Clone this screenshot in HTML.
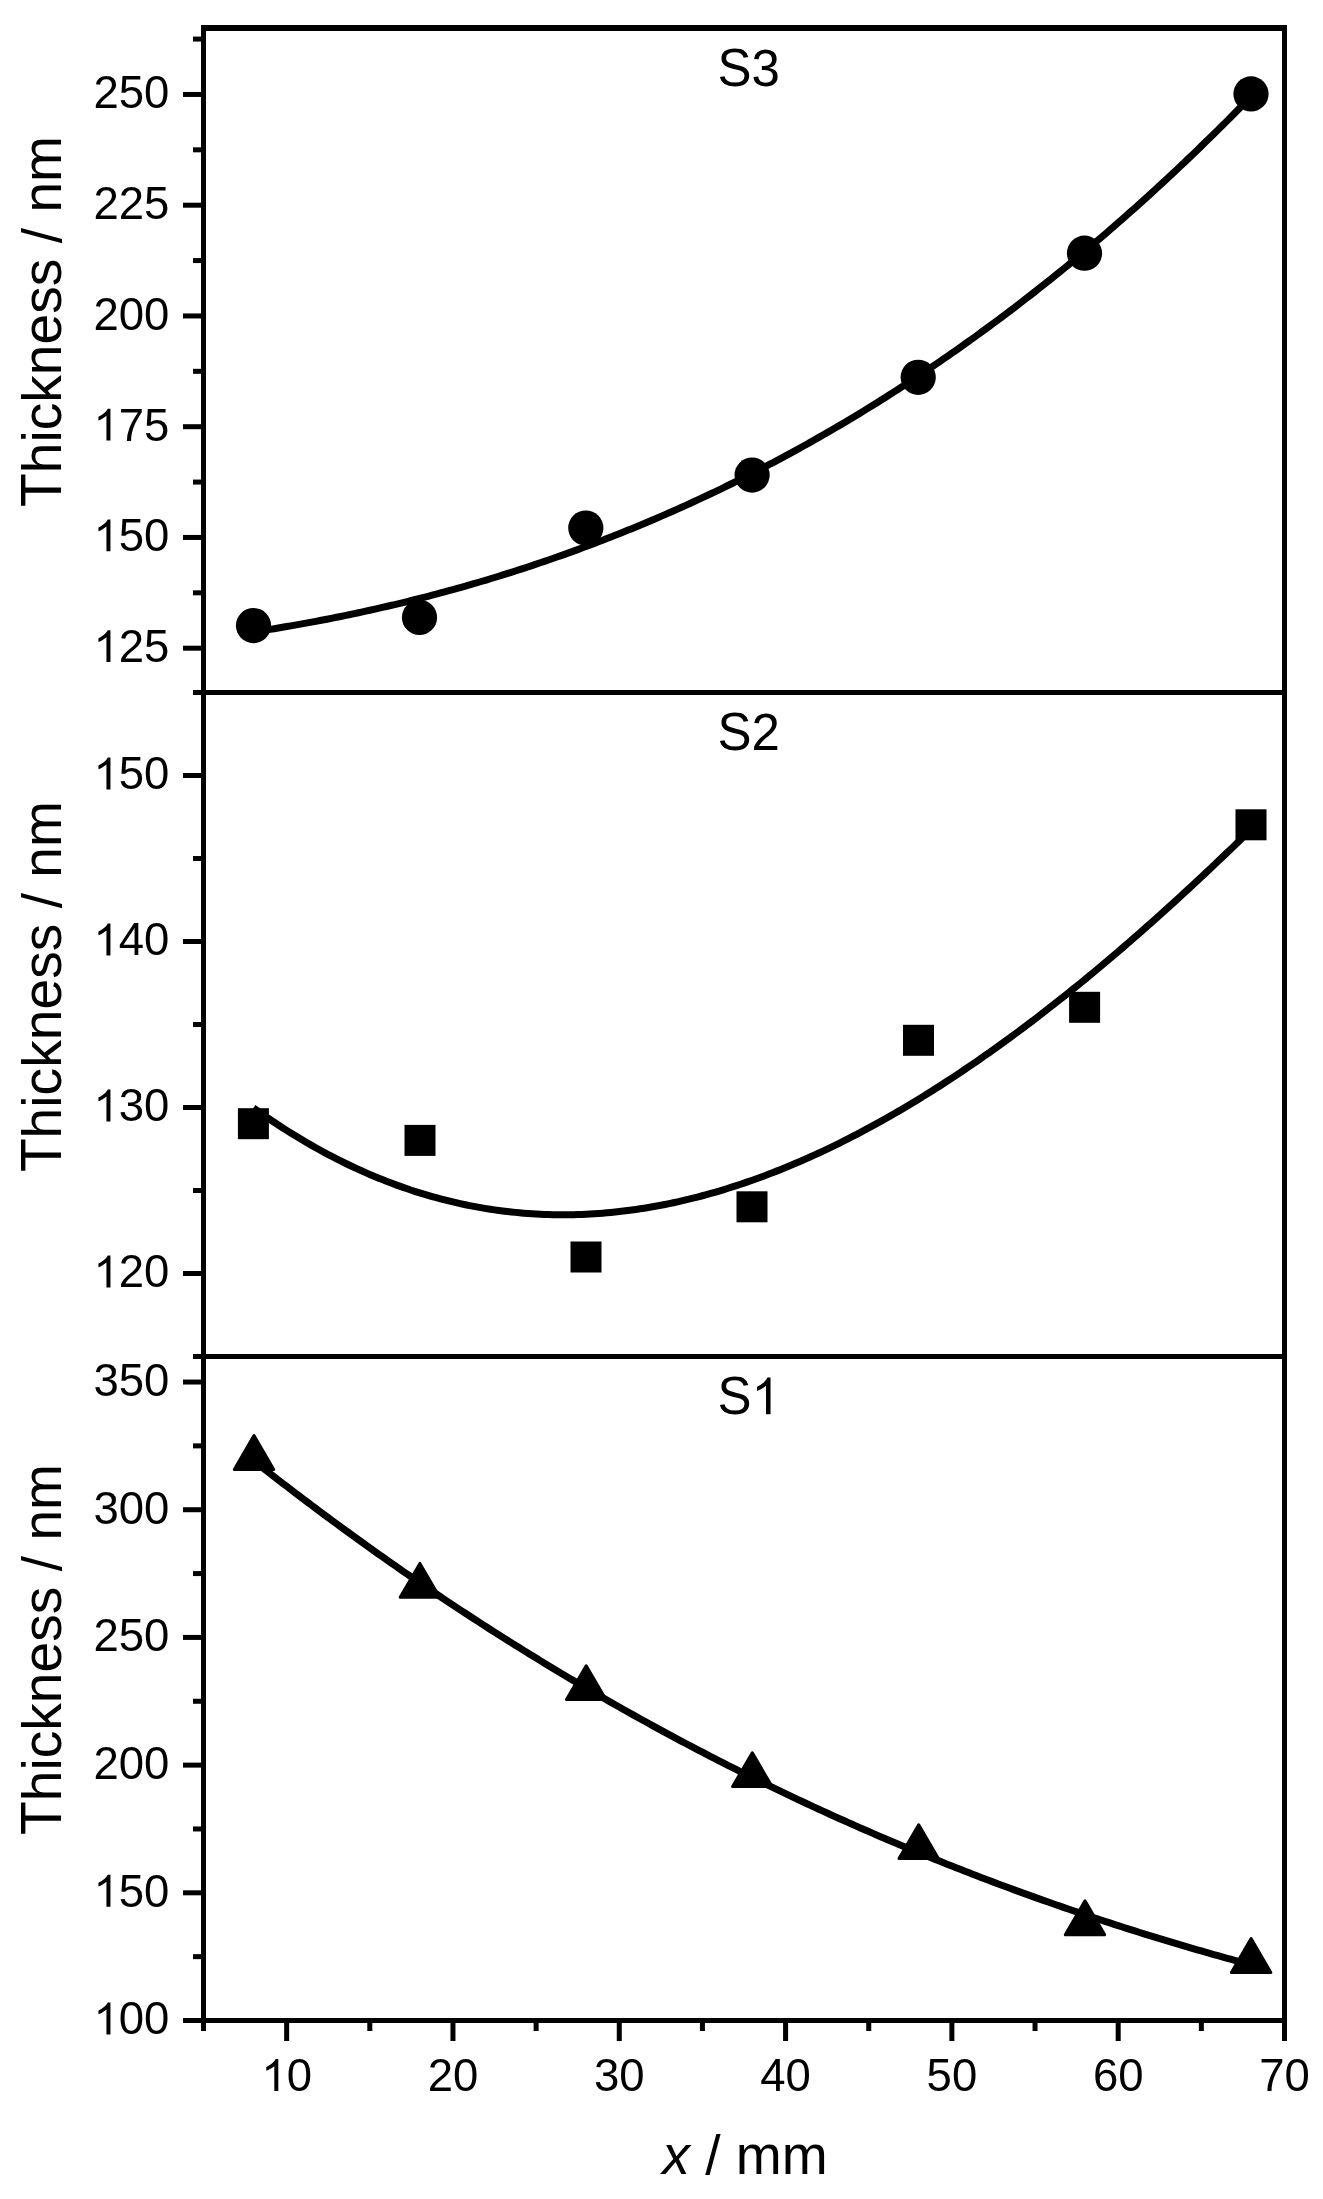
<!DOCTYPE html><html><head><meta charset="utf-8"><title>Thickness vs x</title><style>html,body{margin:0;padding:0;background:#fff;overflow:hidden;}svg{display:block;filter:grayscale(1);}</style></head><body>
<svg width="1323" height="2199" viewBox="0 0 1323 2199" font-family="Liberation Sans, sans-serif" fill="#000">
<defs><path id="one" d="M763,0 L583,0 L583,1147 Q518,1085 412.5,1023 Q307,961 223,930 L223,1104 Q374,1175 486.5,1276 Q599,1377 646,1472 L763,1472 Z"/></defs>
<rect x="0" y="0" width="1323" height="2199" fill="#fff"/>
<rect x="201.00" y="25.00" width="5.00" height="1998.00"/>
<rect x="1282.00" y="25.00" width="5.00" height="1998.00"/>
<rect x="201.00" y="25.00" width="1086.00" height="6.00"/>
<rect x="201.00" y="2018.00" width="1086.00" height="5.00"/>
<rect x="193.00" y="690.00" width="1094.00" height="5.00"/>
<rect x="193.00" y="1354.00" width="1094.00" height="5.00"/>
<rect x="183.00" y="645.70" width="18.00" height="5.00"/>
<rect x="183.00" y="534.95" width="18.00" height="5.00"/>
<rect x="183.00" y="424.20" width="18.00" height="5.00"/>
<rect x="183.00" y="313.45" width="18.00" height="5.00"/>
<rect x="183.00" y="202.70" width="18.00" height="5.00"/>
<rect x="183.00" y="91.95" width="18.00" height="5.00"/>
<rect x="193.00" y="590.33" width="8.00" height="5.00"/>
<rect x="193.00" y="479.57" width="8.00" height="5.00"/>
<rect x="193.00" y="368.82" width="8.00" height="5.00"/>
<rect x="193.00" y="258.07" width="8.00" height="5.00"/>
<rect x="193.00" y="147.33" width="8.00" height="5.00"/>
<rect x="193.00" y="36.58" width="8.00" height="5.00"/>
<rect x="183.00" y="1271.00" width="18.00" height="5.00"/>
<rect x="183.00" y="1105.00" width="18.00" height="5.00"/>
<rect x="183.00" y="939.00" width="18.00" height="5.00"/>
<rect x="183.00" y="773.00" width="18.00" height="5.00"/>
<rect x="193.00" y="1188.00" width="8.00" height="5.00"/>
<rect x="193.00" y="1022.00" width="8.00" height="5.00"/>
<rect x="193.00" y="856.00" width="8.00" height="5.00"/>
<rect x="183.00" y="2018.00" width="18.00" height="5.00"/>
<rect x="183.00" y="1890.31" width="18.00" height="5.00"/>
<rect x="183.00" y="1762.62" width="18.00" height="5.00"/>
<rect x="183.00" y="1634.92" width="18.00" height="5.00"/>
<rect x="183.00" y="1507.23" width="18.00" height="5.00"/>
<rect x="183.00" y="1379.54" width="18.00" height="5.00"/>
<rect x="193.00" y="1954.15" width="8.00" height="5.00"/>
<rect x="193.00" y="1826.46" width="8.00" height="5.00"/>
<rect x="193.00" y="1698.77" width="8.00" height="5.00"/>
<rect x="193.00" y="1571.08" width="8.00" height="5.00"/>
<rect x="193.00" y="1443.38" width="8.00" height="5.00"/>
<rect x="284.15" y="2023.00" width="5.00" height="18.00"/>
<rect x="450.46" y="2023.00" width="5.00" height="18.00"/>
<rect x="616.77" y="2023.00" width="5.00" height="18.00"/>
<rect x="783.08" y="2023.00" width="5.00" height="18.00"/>
<rect x="949.38" y="2023.00" width="5.00" height="18.00"/>
<rect x="1115.69" y="2023.00" width="5.00" height="18.00"/>
<rect x="1282.00" y="2023.00" width="5.00" height="18.00"/>
<rect x="201.00" y="2023.00" width="5.00" height="8.00"/>
<rect x="367.31" y="2023.00" width="5.00" height="8.00"/>
<rect x="533.62" y="2023.00" width="5.00" height="8.00"/>
<rect x="699.92" y="2023.00" width="5.00" height="8.00"/>
<rect x="866.23" y="2023.00" width="5.00" height="8.00"/>
<rect x="1032.54" y="2023.00" width="5.00" height="8.00"/>
<rect x="1198.85" y="2023.00" width="5.00" height="8.00"/>
<use href="#one" transform="translate(93.49,662.10) scale(0.022217,-0.021684)"/>
<text transform="translate(118.79,662.10) scale(1,1.01)" font-size="45.5">2</text>
<text transform="translate(144.10,662.10) scale(1,1.01)" font-size="45.5">5</text>
<use href="#one" transform="translate(93.49,551.35) scale(0.022217,-0.021684)"/>
<text transform="translate(118.79,551.35) scale(1,1.01)" font-size="45.5">5</text>
<text transform="translate(144.10,551.35) scale(1,1.01)" font-size="45.5">0</text>
<use href="#one" transform="translate(93.49,440.60) scale(0.022217,-0.021684)"/>
<text transform="translate(118.79,440.60) scale(1,1.01)" font-size="45.5">7</text>
<text transform="translate(144.10,440.60) scale(1,1.01)" font-size="45.5">5</text>
<text transform="translate(93.49,329.85) scale(1,1.01)" font-size="45.5">2</text>
<text transform="translate(118.79,329.85) scale(1,1.01)" font-size="45.5">0</text>
<text transform="translate(144.10,329.85) scale(1,1.01)" font-size="45.5">0</text>
<text transform="translate(93.49,219.10) scale(1,1.01)" font-size="45.5">2</text>
<text transform="translate(118.79,219.10) scale(1,1.01)" font-size="45.5">2</text>
<text transform="translate(144.10,219.10) scale(1,1.01)" font-size="45.5">5</text>
<text transform="translate(93.49,108.35) scale(1,1.01)" font-size="45.5">2</text>
<text transform="translate(118.79,108.35) scale(1,1.01)" font-size="45.5">5</text>
<text transform="translate(144.10,108.35) scale(1,1.01)" font-size="45.5">0</text>
<use href="#one" transform="translate(93.49,1287.40) scale(0.022217,-0.021684)"/>
<text transform="translate(118.79,1287.40) scale(1,1.01)" font-size="45.5">2</text>
<text transform="translate(144.10,1287.40) scale(1,1.01)" font-size="45.5">0</text>
<use href="#one" transform="translate(93.49,1121.40) scale(0.022217,-0.021684)"/>
<text transform="translate(118.79,1121.40) scale(1,1.01)" font-size="45.5">3</text>
<text transform="translate(144.10,1121.40) scale(1,1.01)" font-size="45.5">0</text>
<use href="#one" transform="translate(93.49,955.40) scale(0.022217,-0.021684)"/>
<text transform="translate(118.79,955.40) scale(1,1.01)" font-size="45.5">4</text>
<text transform="translate(144.10,955.40) scale(1,1.01)" font-size="45.5">0</text>
<use href="#one" transform="translate(93.49,789.40) scale(0.022217,-0.021684)"/>
<text transform="translate(118.79,789.40) scale(1,1.01)" font-size="45.5">5</text>
<text transform="translate(144.10,789.40) scale(1,1.01)" font-size="45.5">0</text>
<use href="#one" transform="translate(93.49,2034.40) scale(0.022217,-0.021684)"/>
<text transform="translate(118.79,2034.40) scale(1,1.01)" font-size="45.5">0</text>
<text transform="translate(144.10,2034.40) scale(1,1.01)" font-size="45.5">0</text>
<use href="#one" transform="translate(93.49,1906.71) scale(0.022217,-0.021684)"/>
<text transform="translate(118.79,1906.71) scale(1,1.01)" font-size="45.5">5</text>
<text transform="translate(144.10,1906.71) scale(1,1.01)" font-size="45.5">0</text>
<text transform="translate(93.49,1779.02) scale(1,1.01)" font-size="45.5">2</text>
<text transform="translate(118.79,1779.02) scale(1,1.01)" font-size="45.5">0</text>
<text transform="translate(144.10,1779.02) scale(1,1.01)" font-size="45.5">0</text>
<text transform="translate(93.49,1651.32) scale(1,1.01)" font-size="45.5">2</text>
<text transform="translate(118.79,1651.32) scale(1,1.01)" font-size="45.5">5</text>
<text transform="translate(144.10,1651.32) scale(1,1.01)" font-size="45.5">0</text>
<text transform="translate(93.49,1523.63) scale(1,1.01)" font-size="45.5">3</text>
<text transform="translate(118.79,1523.63) scale(1,1.01)" font-size="45.5">0</text>
<text transform="translate(144.10,1523.63) scale(1,1.01)" font-size="45.5">0</text>
<text transform="translate(93.49,1395.94) scale(1,1.01)" font-size="45.5">3</text>
<text transform="translate(118.79,1395.94) scale(1,1.01)" font-size="45.5">5</text>
<text transform="translate(144.10,1395.94) scale(1,1.01)" font-size="45.5">0</text>
<use href="#one" transform="translate(261.35,2091.00) scale(0.022217,-0.021684)"/>
<text transform="translate(286.65,2091.00) scale(1,1.01)" font-size="45.5">0</text>
<text transform="translate(427.66,2091.00) scale(1,1.01)" font-size="45.5">2</text>
<text transform="translate(452.96,2091.00) scale(1,1.01)" font-size="45.5">0</text>
<text transform="translate(593.96,2091.00) scale(1,1.01)" font-size="45.5">3</text>
<text transform="translate(619.27,2091.00) scale(1,1.01)" font-size="45.5">0</text>
<text transform="translate(760.27,2091.00) scale(1,1.01)" font-size="45.5">4</text>
<text transform="translate(785.58,2091.00) scale(1,1.01)" font-size="45.5">0</text>
<text transform="translate(926.58,2091.00) scale(1,1.01)" font-size="45.5">5</text>
<text transform="translate(951.88,2091.00) scale(1,1.01)" font-size="45.5">0</text>
<text transform="translate(1092.89,2091.00) scale(1,1.01)" font-size="45.5">6</text>
<text transform="translate(1118.19,2091.00) scale(1,1.01)" font-size="45.5">0</text>
<text transform="translate(1259.20,2091.00) scale(1,1.01)" font-size="45.5">7</text>
<text transform="translate(1284.50,2091.00) scale(1,1.01)" font-size="45.5">0</text>
<g transform="translate(60.8,507.0) rotate(-90)">
<text transform="scale(1,1.045)" font-size="55.2">T</text>
<text x="33.72" font-size="55.2">hickness / nm</text>
</g>
<g transform="translate(60.8,1172.1) rotate(-90)">
<text transform="scale(1,1.045)" font-size="55.2">T</text>
<text x="33.72" font-size="55.2">hickness / nm</text>
</g>
<g transform="translate(60.8,1835.0) rotate(-90)">
<text transform="scale(1,1.045)" font-size="55.2">T</text>
<text x="33.72" font-size="55.2">hickness / nm</text>
</g>
<text x="745" y="2173.8" font-size="55.2" text-anchor="middle"><tspan font-style="italic">x</tspan> / mm</text>
<text transform="translate(717.50,85.70) scale(1,1.07)" font-size="51">S</text>
<text transform="translate(751.52,85.70) scale(1,1.02)" font-size="51">3</text>
<text transform="translate(717.50,750.20) scale(1,1.07)" font-size="51">S</text>
<text transform="translate(751.52,750.20) scale(1,1.02)" font-size="51">2</text>
<text transform="translate(717.50,1414.20) scale(1,1.07)" font-size="51">S</text>
<use href="#one" transform="translate(751.52,1414.20) scale(0.024902,-0.024902)"/>
<polyline points="253.39,631.96 257.55,631.32 261.71,630.67 265.87,630.01 270.02,629.34 274.18,628.67 278.34,627.98 282.50,627.28 286.65,626.57 290.81,625.86 294.97,625.13 299.13,624.39 303.28,623.65 307.44,622.89 311.60,622.12 315.76,621.34 319.92,620.55 324.07,619.75 328.23,618.95 332.39,618.13 336.55,617.30 340.70,616.45 344.86,615.60 349.02,614.74 353.18,613.87 357.33,612.99 361.49,612.09 365.65,611.19 369.81,610.27 373.97,609.34 378.12,608.41 382.28,607.46 386.44,606.50 390.60,605.53 394.75,604.54 398.91,603.55 403.07,602.55 407.23,601.53 411.38,600.50 415.54,599.47 419.70,598.42 423.86,597.35 428.02,596.28 432.17,595.20 436.33,594.10 440.49,592.99 444.65,591.87 448.80,590.74 452.96,589.60 457.12,588.44 461.28,587.28 465.43,586.10 469.59,584.91 473.75,583.71 477.91,582.49 482.07,581.26 486.22,580.03 490.38,578.77 494.54,577.51 498.70,576.23 502.85,574.95 507.01,573.65 511.17,572.33 515.33,571.01 519.48,569.67 523.64,568.32 527.80,566.96 531.96,565.58 536.12,564.19 540.27,562.79 544.43,561.38 548.59,559.95 552.75,558.51 556.90,557.06 561.06,555.59 565.22,554.11 569.38,552.62 573.53,551.12 577.69,549.60 581.85,548.07 586.01,546.52 590.17,544.96 594.32,543.39 598.48,541.81 602.64,540.21 606.80,538.60 610.95,536.97 615.11,535.33 619.27,533.68 623.43,532.01 627.58,530.33 631.74,528.64 635.90,526.93 640.06,525.21 644.22,523.48 648.37,521.73 652.53,519.96 656.69,518.19 660.85,516.39 665.00,514.59 669.16,512.77 673.32,510.93 677.48,509.09 681.63,507.22 685.79,505.35 689.95,503.45 694.11,501.55 698.27,499.63 702.42,497.69 706.58,495.74 710.74,493.78 714.90,491.80 719.05,489.81 723.21,487.80 727.37,485.77 731.53,483.74 735.68,481.68 739.84,479.62 744.00,477.53 748.16,475.43 752.32,473.32 756.47,471.19 760.63,469.05 764.79,466.89 768.95,464.71 773.10,462.53 777.26,460.32 781.42,458.10 785.58,455.86 789.73,453.61 793.89,451.35 798.05,449.06 802.21,446.76 806.37,444.45 810.52,442.12 814.68,439.77 818.84,437.41 823.00,435.04 827.15,432.64 831.31,430.23 835.47,427.81 839.63,425.37 843.78,422.91 847.94,420.43 852.10,417.94 856.26,415.44 860.42,412.92 864.57,410.38 868.73,407.82 872.89,405.25 877.05,402.66 881.20,400.06 885.36,397.43 889.52,394.80 893.68,392.14 897.83,389.47 901.99,386.78 906.15,384.08 910.31,381.36 914.47,378.62 918.62,375.86 922.78,373.09 926.94,370.30 931.10,367.49 935.25,364.67 939.41,361.83 943.57,358.97 947.73,356.09 951.88,353.20 956.04,350.29 960.20,347.36 964.36,344.41 968.52,341.45 972.67,338.47 976.83,335.47 980.99,332.46 985.15,329.42 989.30,326.37 993.46,323.30 997.62,320.22 1001.78,317.11 1005.93,313.99 1010.09,310.85 1014.25,307.69 1018.41,304.51 1022.57,301.32 1026.72,298.10 1030.88,294.87 1035.04,291.62 1039.20,288.35 1043.35,285.07 1047.51,281.76 1051.67,278.44 1055.83,275.10 1059.98,271.74 1064.14,268.36 1068.30,264.96 1072.46,261.55 1076.62,258.11 1080.77,254.66 1084.93,251.19 1089.09,247.70 1093.25,244.19 1097.40,240.66 1101.56,237.11 1105.72,233.54 1109.88,229.96 1114.03,226.35 1118.19,222.73 1122.35,219.08 1126.51,215.42 1130.67,211.74 1134.82,208.04 1138.98,204.32 1143.14,200.58 1147.30,196.82 1151.45,193.04 1155.61,189.24 1159.77,185.42 1163.93,181.58 1168.08,177.72 1172.24,173.85 1176.40,169.95 1180.56,166.03 1184.72,162.09 1188.87,158.14 1193.03,154.16 1197.19,150.16 1201.35,146.14 1205.50,142.11 1209.66,138.05 1213.82,133.97 1217.98,129.87 1222.13,125.75 1226.29,121.61 1230.45,117.45 1234.61,113.27 1238.77,109.07 1242.92,104.85 1247.08,100.61 1251.24,96.35" fill="none" stroke="#000" stroke-width="7" stroke-linejoin="round"/>
<polyline points="253.39,1107.90 257.55,1110.86 261.71,1113.78 265.87,1116.66 270.02,1119.49 274.18,1122.28 278.34,1125.02 282.50,1127.72 286.65,1130.38 290.81,1132.99 294.97,1135.56 299.13,1138.08 303.28,1140.56 307.44,1143.00 311.60,1145.39 315.76,1147.75 319.92,1150.05 324.07,1152.32 328.23,1154.54 332.39,1156.72 336.55,1158.86 340.70,1160.95 344.86,1163.00 349.02,1165.01 353.18,1166.98 357.33,1168.91 361.49,1170.79 365.65,1172.64 369.81,1174.44 373.97,1176.20 378.12,1177.92 382.28,1179.60 386.44,1181.23 390.60,1182.83 394.75,1184.38 398.91,1185.90 403.07,1187.37 407.23,1188.81 411.38,1190.20 415.54,1191.56 419.70,1192.87 423.86,1194.15 428.02,1195.38 432.17,1196.58 436.33,1197.73 440.49,1198.85 444.65,1199.93 448.80,1200.97 452.96,1201.97 457.12,1202.93 461.28,1203.85 465.43,1204.73 469.59,1205.58 473.75,1206.39 477.91,1207.15 482.07,1207.89 486.22,1208.58 490.38,1209.24 494.54,1209.85 498.70,1210.43 502.85,1210.98 507.01,1211.48 511.17,1211.95 515.33,1212.39 519.48,1212.78 523.64,1213.14 527.80,1213.46 531.96,1213.75 536.12,1214.00 540.27,1214.21 544.43,1214.39 548.59,1214.53 552.75,1214.64 556.90,1214.71 561.06,1214.74 565.22,1214.74 569.38,1214.71 573.53,1214.64 577.69,1214.53 581.85,1214.39 586.01,1214.21 590.17,1214.00 594.32,1213.76 598.48,1213.48 602.64,1213.17 606.80,1212.82 610.95,1212.44 615.11,1212.03 619.27,1211.58 623.43,1211.10 627.58,1210.58 631.74,1210.03 635.90,1209.45 640.06,1208.83 644.22,1208.19 648.37,1207.51 652.53,1206.79 656.69,1206.05 660.85,1205.27 665.00,1204.46 669.16,1203.62 673.32,1202.74 677.48,1201.84 681.63,1200.90 685.79,1199.93 689.95,1198.93 694.11,1197.90 698.27,1196.83 702.42,1195.74 706.58,1194.61 710.74,1193.46 714.90,1192.27 719.05,1191.05 723.21,1189.80 727.37,1188.52 731.53,1187.21 735.68,1185.88 739.84,1184.51 744.00,1183.11 748.16,1181.68 752.32,1180.22 756.47,1178.74 760.63,1177.22 764.79,1175.68 768.95,1174.10 773.10,1172.50 777.26,1170.87 781.42,1169.21 785.58,1167.52 789.73,1165.80 793.89,1164.05 798.05,1162.28 802.21,1160.48 806.37,1158.65 810.52,1156.79 814.68,1154.91 818.84,1152.99 823.00,1151.05 827.15,1149.09 831.31,1147.09 835.47,1145.07 839.63,1143.02 843.78,1140.95 847.94,1138.85 852.10,1136.72 856.26,1134.57 860.42,1132.39 864.57,1130.18 868.73,1127.95 872.89,1125.69 877.05,1123.41 881.20,1121.10 885.36,1118.77 889.52,1116.41 893.68,1114.03 897.83,1111.62 901.99,1109.18 906.15,1106.72 910.31,1104.24 914.47,1101.73 918.62,1099.20 922.78,1096.64 926.94,1094.06 931.10,1091.46 935.25,1088.83 939.41,1086.18 943.57,1083.50 947.73,1080.80 951.88,1078.08 956.04,1075.34 960.20,1072.57 964.36,1069.78 968.52,1066.96 972.67,1064.13 976.83,1061.27 980.99,1058.38 985.15,1055.48 989.30,1052.55 993.46,1049.61 997.62,1046.64 1001.78,1043.64 1005.93,1040.63 1010.09,1037.60 1014.25,1034.54 1018.41,1031.46 1022.57,1028.36 1026.72,1025.24 1030.88,1022.10 1035.04,1018.94 1039.20,1015.76 1043.35,1012.56 1047.51,1009.34 1051.67,1006.09 1055.83,1002.83 1059.98,999.55 1064.14,996.25 1068.30,992.93 1072.46,989.58 1076.62,986.22 1080.77,982.84 1084.93,979.44 1089.09,976.02 1093.25,972.59 1097.40,969.13 1101.56,965.66 1105.72,962.16 1109.88,958.65 1114.03,955.12 1118.19,951.57 1122.35,948.01 1126.51,944.42 1130.67,940.82 1134.82,937.20 1138.98,933.57 1143.14,929.91 1147.30,926.24 1151.45,922.55 1155.61,918.85 1159.77,915.13 1163.93,911.39 1168.08,907.63 1172.24,903.86 1176.40,900.07 1180.56,896.27 1184.72,892.45 1188.87,888.61 1193.03,884.76 1197.19,880.89 1201.35,877.01 1205.50,873.11 1209.66,869.20 1213.82,865.27 1217.98,861.33 1222.13,857.37 1226.29,853.39 1230.45,849.41 1234.61,845.40 1238.77,841.39 1242.92,837.36 1247.08,833.31 1251.24,829.25" fill="none" stroke="#000" stroke-width="7" stroke-linejoin="round"/>
<polyline points="253.39,1460.48 257.55,1463.75 261.71,1467.01 265.87,1470.26 270.02,1473.50 274.18,1476.73 278.34,1479.94 282.50,1483.15 286.65,1486.34 290.81,1489.52 294.97,1492.69 299.13,1495.85 303.28,1499.00 307.44,1502.14 311.60,1505.26 315.76,1508.38 319.92,1511.48 324.07,1514.58 328.23,1517.66 332.39,1520.73 336.55,1523.79 340.70,1526.84 344.86,1529.87 349.02,1532.90 353.18,1535.92 357.33,1538.92 361.49,1541.92 365.65,1544.90 369.81,1547.87 373.97,1550.83 378.12,1553.78 382.28,1556.72 386.44,1559.65 390.60,1562.57 394.75,1565.48 398.91,1568.37 403.07,1571.26 407.23,1574.14 411.38,1577.00 415.54,1579.85 419.70,1582.70 423.86,1585.53 428.02,1588.35 432.17,1591.16 436.33,1593.97 440.49,1596.76 444.65,1599.54 448.80,1602.31 452.96,1605.07 457.12,1607.81 461.28,1610.55 465.43,1613.28 469.59,1616.00 473.75,1618.70 477.91,1621.40 482.07,1624.09 486.22,1626.76 490.38,1629.43 494.54,1632.09 498.70,1634.73 502.85,1637.37 507.01,1639.99 511.17,1642.61 515.33,1645.21 519.48,1647.80 523.64,1650.39 527.80,1652.96 531.96,1655.53 536.12,1658.08 540.27,1660.63 544.43,1663.16 548.59,1665.68 552.75,1668.20 556.90,1670.70 561.06,1673.20 565.22,1675.68 569.38,1678.15 573.53,1680.62 577.69,1683.07 581.85,1685.52 586.01,1687.95 590.17,1690.38 594.32,1692.79 598.48,1695.20 602.64,1697.59 606.80,1699.98 610.95,1702.36 615.11,1704.72 619.27,1707.08 623.43,1709.43 627.58,1711.77 631.74,1714.09 635.90,1716.41 640.06,1718.72 644.22,1721.02 648.37,1723.31 652.53,1725.59 656.69,1727.86 660.85,1730.12 665.00,1732.37 669.16,1734.62 673.32,1736.85 677.48,1739.07 681.63,1741.29 685.79,1743.49 689.95,1745.69 694.11,1747.88 698.27,1750.05 702.42,1752.22 706.58,1754.38 710.74,1756.53 714.90,1758.67 719.05,1760.80 723.21,1762.92 727.37,1765.03 731.53,1767.14 735.68,1769.23 739.84,1771.32 744.00,1773.39 748.16,1775.46 752.32,1777.52 756.47,1779.57 760.63,1781.61 764.79,1783.64 768.95,1785.66 773.10,1787.68 777.26,1789.68 781.42,1791.68 785.58,1793.66 789.73,1795.64 793.89,1797.61 798.05,1799.57 802.21,1801.52 806.37,1803.46 810.52,1805.40 814.68,1807.32 818.84,1809.24 823.00,1811.15 827.15,1813.05 831.31,1814.94 835.47,1816.82 839.63,1818.69 843.78,1820.56 847.94,1822.41 852.10,1824.26 856.26,1826.10 860.42,1827.93 864.57,1829.75 868.73,1831.57 872.89,1833.37 877.05,1835.17 881.20,1836.96 885.36,1838.74 889.52,1840.51 893.68,1842.27 897.83,1844.03 901.99,1845.77 906.15,1847.51 910.31,1849.24 914.47,1850.96 918.62,1852.68 922.78,1854.38 926.94,1856.08 931.10,1857.77 935.25,1859.45 939.41,1861.12 943.57,1862.79 947.73,1864.44 951.88,1866.09 956.04,1867.73 960.20,1869.36 964.36,1870.99 968.52,1872.60 972.67,1874.21 976.83,1875.81 980.99,1877.40 985.15,1878.99 989.30,1880.57 993.46,1882.13 997.62,1883.70 1001.78,1885.25 1005.93,1886.79 1010.09,1888.33 1014.25,1889.86 1018.41,1891.38 1022.57,1892.90 1026.72,1894.40 1030.88,1895.90 1035.04,1897.39 1039.20,1898.88 1043.35,1900.35 1047.51,1901.82 1051.67,1903.28 1055.83,1904.74 1059.98,1906.18 1064.14,1907.62 1068.30,1909.05 1072.46,1910.47 1076.62,1911.89 1080.77,1913.30 1084.93,1914.70 1089.09,1916.09 1093.25,1917.48 1097.40,1918.86 1101.56,1920.23 1105.72,1921.59 1109.88,1922.95 1114.03,1924.30 1118.19,1925.64 1122.35,1926.97 1126.51,1928.30 1130.67,1929.62 1134.82,1930.93 1138.98,1932.24 1143.14,1933.54 1147.30,1934.83 1151.45,1936.12 1155.61,1937.39 1159.77,1938.66 1163.93,1939.93 1168.08,1941.18 1172.24,1942.43 1176.40,1943.67 1180.56,1944.91 1184.72,1946.14 1188.87,1947.36 1193.03,1948.57 1197.19,1949.78 1201.35,1950.98 1205.50,1952.18 1209.66,1953.36 1213.82,1954.54 1217.98,1955.72 1222.13,1956.88 1226.29,1958.04 1230.45,1959.20 1234.61,1960.34 1238.77,1961.48 1242.92,1962.62 1247.08,1963.74 1251.24,1964.86" fill="none" stroke="#000" stroke-width="7" stroke-linejoin="round"/>
<circle cx="253.50" cy="625.60" r="17.6"/>
<circle cx="419.50" cy="617.40" r="17.6"/>
<circle cx="585.80" cy="528.00" r="17.6"/>
<circle cx="752.10" cy="475.10" r="17.6"/>
<circle cx="918.20" cy="377.30" r="17.6"/>
<circle cx="1084.50" cy="253.20" r="17.6"/>
<circle cx="1251.00" cy="93.90" r="17.6"/>
<rect x="237.90" y="1108.20" width="31" height="31"/>
<rect x="404.50" y="1124.90" width="31" height="31"/>
<rect x="570.50" y="1241.50" width="31" height="31"/>
<rect x="736.50" y="1191.30" width="31" height="31"/>
<rect x="903.00" y="1024.80" width="31" height="31"/>
<rect x="1069.10" y="991.80" width="31" height="31"/>
<rect x="1235.50" y="809.30" width="31" height="31"/>
<polygon points="254.00,1435.50 273.70,1469.40 234.30,1469.40" stroke="#000" stroke-width="3.0" stroke-linejoin="round"/>
<polygon points="419.90,1563.40 439.60,1597.30 400.20,1597.30" stroke="#000" stroke-width="3.0" stroke-linejoin="round"/>
<polygon points="586.20,1665.70 605.90,1699.60 566.50,1699.60" stroke="#000" stroke-width="3.0" stroke-linejoin="round"/>
<polygon points="752.30,1752.70 772.00,1786.60 732.60,1786.60" stroke="#000" stroke-width="3.0" stroke-linejoin="round"/>
<polygon points="918.70,1824.70 938.40,1858.60 899.00,1858.60" stroke="#000" stroke-width="3.0" stroke-linejoin="round"/>
<polygon points="1085.00,1900.80 1104.70,1934.70 1065.30,1934.70" stroke="#000" stroke-width="3.0" stroke-linejoin="round"/>
<polygon points="1251.10,1938.50 1270.80,1972.40 1231.40,1972.40" stroke="#000" stroke-width="3.0" stroke-linejoin="round"/>
</svg></body></html>
